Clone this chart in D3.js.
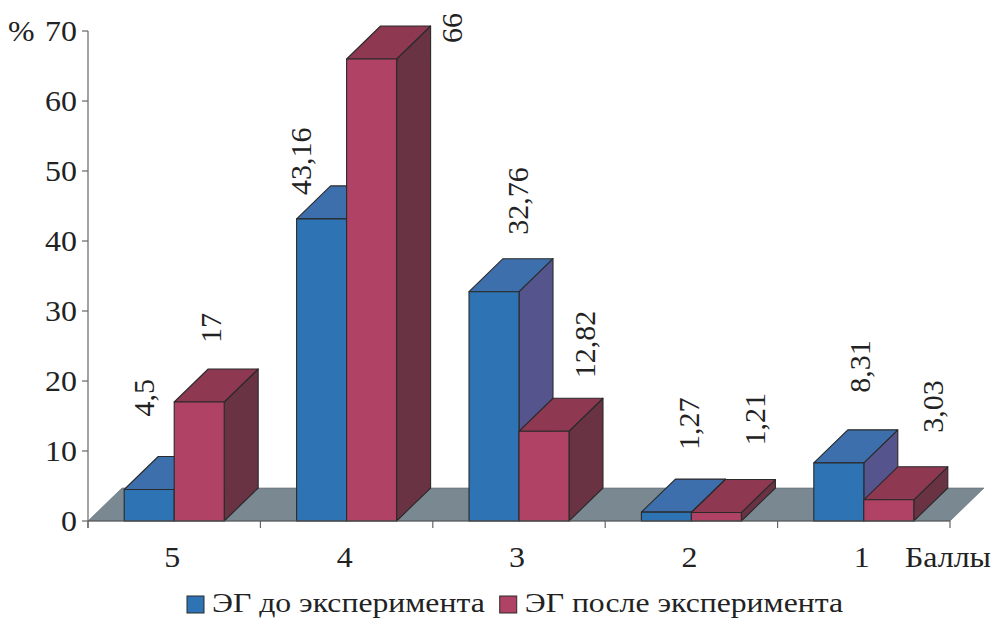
<!DOCTYPE html>
<html>
<head>
<meta charset="utf-8">
<script src="https://cdn.jsdelivr.net/npm/d3@7"></script>
<style>
    body { margin: 0; background: #fff; }
</style>
</head>
<body>
<div id="chart"></div>
<script>
// data
let categories = ["5", "4", "3", "2", "1"];
let seriesNames = ["ЭГ до эксперимента", "ЭГ после эксперимента"];
let before = [4.5, 43.16, 32.76, 1.27, 8.31];
let after = [17, 66, 12.82, 1.21, 3.03];
let yTicks = [0, 10, 20, 30, 40, 50, 60, 70];

// label nudges (pixels) relative to the top back centre of a bar, key = series-category
let labelNudge = {
    "0-0": [-37, -40], "1-0": [-20, -26],
    "0-1": [-53, 9],   "1-1": [48, 17],
    "0-2": [-8, -24],  "1-2": [9, -20],
    "0-3": [-9, -29],  "1-3": [7, -34],
    "0-4": [-11, -37], "1-4": [12, -34]
};

// colours: front, top, side
let palette = [
    ["#2e74b5", "#3c6fab", "#56548d"],
    ["#b04265", "#8e3852", "#6a3344"]
];

let width = 991, height = 619;
let depth = {dx: 34, dy: 33};
let serif = "Liberation Serif";
let fs = 29;
let stretch = 1.1; // text in the source is a bit wide

let svg = d3.select("#chart").append("svg")
    .attr("width", width)
    .attr("height", height);

function label(sel) {
    return sel.append("text")
        .attr("font-family", serif)
        .attr("font-size", fs)
        .attr("fill", "#222");
}

let x0 = d3.scaleBand()
    .domain(categories)
    .range([88, 950])
    .paddingInner(0.42)
    .paddingOuter(0.21);

let x1 = d3.scaleBand()
    .domain([0, 1])
    .range([0, x0.bandwidth()]);

let y = d3.scaleLinear()
    .domain([0, 70])
    .range([521, 31]);

let y0 = y(0);

// floor
svg.append("path")
    .attr("d", `M${88},${y0} L${950},${y0} L${950 + depth.dx},${y0 - depth.dy} L${88 + depth.dx},${y0 - depth.dy} Z`)
    .attr("fill", "#7a8891")
    .attr("stroke", "#5e6a72")
    .attr("stroke-width", 0.6);

// bars
let bars = [];
categories.forEach((c, i) => {
    [before[i], after[i]].forEach((v, s) => {
        bars.push({cat: c, ci: i, s: s, value: v});
    });
});

let g = svg.append("g");

bars.forEach(d => {
    let x = x0(d.cat) + x1(d.s);
    let w = x1.bandwidth();
    let yv = y(d.value);
    let cols = palette[d.s];
    let bar = g.append("g");

    bar.append("path")
        .attr("d", `M${x + w},${yv} L${x + w + depth.dx},${yv - depth.dy} L${x + w + depth.dx},${y0 - depth.dy} L${x + w},${y0} Z`)
        .attr("fill", cols[2]);

    bar.append("path")
        .attr("d", `M${x},${yv} L${x + depth.dx},${yv - depth.dy} L${x + w + depth.dx},${yv - depth.dy} L${x + w},${yv} Z`)
        .attr("fill", cols[1]);

    bar.append("rect")
        .attr("x", x)
        .attr("y", yv)
        .attr("width", w)
        .attr("height", y0 - yv)
        .attr("fill", cols[0]);

    bar.selectAll("path, rect")
        .attr("stroke", "#2a2a2a")
        .attr("stroke-width", 1.1)
        .attr("stroke-linejoin", "round");
});

// value labels (rotated, read bottom to top)
bars.forEach(d => {
    let cx = x0(d.cat) + x1(d.s) + x1.bandwidth() / 2 + depth.dx;
    let top = y(d.value) - depth.dy;
    let nudge = labelNudge[d.s + "-" + d.ci] || [d.s === 0 ? -9 : 10, -30];
    label(svg)
        .attr("font-size", 30)
        .attr("transform", `translate(${cx + nudge[0] + 8},${top + nudge[1]}) rotate(-90)`)
        .text(String(d.value).replace(".", ","));
});

// y axis
let yAxis = svg.append("g");
yAxis.append("line")
    .attr("x1", 88).attr("x2", 88)
    .attr("y1", y(70)).attr("y2", y0 + 7)
    .attr("stroke", "#666").attr("stroke-width", 1.2);

yTicks.forEach(t => {
    yAxis.append("line")
        .attr("x1", 82).attr("x2", 88)
        .attr("y1", y(t)).attr("y2", y(t))
        .attr("stroke", "#666").attr("stroke-width", 1.2);
    label(yAxis)
        .attr("text-anchor", "end")
        .attr("transform", `translate(77,${y(t) + 10}) scale(${stretch},1)`)
        .text(t);
});

label(yAxis)
    .attr("transform", `translate(8,${y(70) + 10}) scale(${stretch},1)`)
    .text("%");

// x axis
let xAxis = svg.append("g");
xAxis.append("line")
    .attr("x1", 88).attr("x2", 950)
    .attr("y1", y0).attr("y2", y0)
    .attr("stroke", "#555").attr("stroke-width", 1.2);

let step = x0.step();
d3.range(categories.length + 1).forEach(k => {
    let tx = 88 + k * step;
    xAxis.append("line")
        .attr("x1", tx).attr("x2", tx)
        .attr("y1", y0).attr("y2", y0 + 7)
        .attr("stroke", "#666").attr("stroke-width", 1.2);
});

categories.forEach(c => {
    label(xAxis)
        .attr("text-anchor", "middle")
        .attr("transform", `translate(${x0(c) + x0.bandwidth() / 2 - 2},567) scale(${stretch},1)`)
        .text(c);
});

label(xAxis)
    .attr("transform", `translate(905,567) scale(${stretch},1)`)
    .text("Баллы");

// legend
let legend = svg.append("g").attr("transform", "translate(187, 604)");
let lx = 0;
seriesNames.forEach((name, i) => {
    let item = legend.append("g").attr("transform", `translate(${lx}, 0)`);
    item.append("rect")
        .attr("x", 0).attr("y", -8)
        .attr("width", 17).attr("height", 17)
        .attr("fill", palette[i][0])
        .attr("stroke", "#2a2a2a")
        .attr("stroke-width", 1);
    let t = label(item)
        .attr("font-size", 28)
        .attr("transform", `translate(25,8) scale(${stretch * 1.03},1)`)
        .text(name);
    lx += 25 + t.node().getComputedTextLength() * stretch * 1.03 + 15;
});
</script>
</body>
</html>
